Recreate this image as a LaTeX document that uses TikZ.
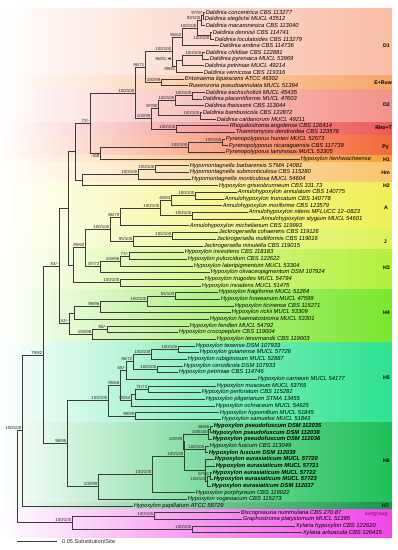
\documentclass[tikz,border=0pt]{standalone}
\usepackage{fontspec}
\setmainfont{Liberation Sans}
\usetikzlibrary{calc,arrows.meta}
\definecolor{brc}{HTML}{3A3A3A}
\definecolor{cD1}{HTML}{F9BDA6}
\definecolor{cER}{HTML}{F7A767}
\definecolor{cD2}{HTML}{F3928A}
\definecolor{cRT}{HTML}{EE5A5A}
\definecolor{cPy}{HTML}{F36A3C}
\definecolor{cHa}{HTML}{F6A23A}
\definecolor{cHm}{HTML}{F8C56E}
\definecolor{cHb}{HTML}{F2EE55}
\definecolor{cA}{HTML}{EEF055}
\definecolor{cJ}{HTML}{DDF25A}
\definecolor{cHc}{HTML}{B4F03C}
\definecolor{cHd}{HTML}{7AE62E}
\definecolor{cHe}{HTML}{2EE290}
\definecolor{cHf}{HTML}{1EC058}
\definecolor{cHg}{HTML}{119A45}
\definecolor{cOut}{HTML}{F046E6}
\definecolor{cOutT}{HTML}{9B1B8F}
\tikzset{
 branch/.style={draw=brc, line width=0.5pt},
 lab/.style={anchor=west, inner sep=0.6pt, font=\fontsize{5.8}{6}\selectfont\itshape, text=black},
 blab/.style={lab, font=\fontsize{5.8}{6}\selectfont\bfseries\itshape},
 bsl/.style={inner sep=0.5pt, font=\fontsize{4.4}{4.6}\selectfont, text=black!85},
 clade/.style={anchor=east, inner sep=0pt, font=\fontsize{5.2}{6}\selectfont\bfseries},
}
\newcommand\tleaf[4]{\coordinate (#1) at (#3,{12.3+(#2-1)*6.67}); \node[lab] (#1t) at (#1) {#4};}
\newcommand\tbleaf[4]{\coordinate (#1) at (#3,{12.3+(#2-1)*6.67}); \node[blab] (#1t) at (#1) {#4};}
\newcommand\tnode[4]{\path let \p1=(#3), \p2=(#4) in coordinate (#1) at (#2pt,{0.5*(\y1+\y2)}); \draw[branch] (#1) |- (#3); \draw[branch] (#1) |- (#4);}
\newcommand\tbs[3][south east]{\node[bsl,anchor=#1] (#2l) at (#2) {#3};}
\newcommand\tband[3]{\shade[left color=white, right color=#3, middle color=#3!55!white] (0,#1) rectangle (392,#2);}
\begin{document}
\begin{tikzpicture}[x=1pt,y=-1pt]
\useasboundingbox (0,0) rectangle (398,550);
% bands
\tband{8}{75.7}{cD1}
\tband{75.7}{89.0}{cER}
\tband{89.0}{122.4}{cD2}
\tband{122.4}{135.7}{cRT}
\tband{135.7}{155.7}{cPy}
\tband{155.7}{162.4}{cHa}
\tband{162.4}{182.4}{cHm}
\tband{182.4}{189.1}{cHb}
\tband{189.1}{229.1}{cA}
\tband{229.1}{249.1}{cJ}
\tband{249.1}{289.1}{cHc}
\tband{289.1}{342.5}{cHd}
\tband{342.5}{422.5}{cHe}
\tband{422.5}{502.5}{cHf}
\tband{502.5}{509.2}{cHg}
\tband{509.2}{537}{cOut}
% clade labels
\node[clade] (kD1) at (390,46) {D1};
\node[clade] (kER) at (392,83) {E+Ruw};
\node[clade] (kD2) at (390,105) {D2};
\node[clade] (kRT) at (392,128) {Rho+T};
\node[clade] (kPy) at (389,147) {Py};
\node[clade] (kH1) at (390,159.5) {H1};
\node[clade] (kHm) at (390,173) {Hm};
\node[clade] (kH2) at (390,186) {H2};
\node[clade] (kA) at (388,208) {A};
\node[clade] (kJ) at (387,242) {J};
\node[clade] (kH3) at (390,268) {H3};
\node[clade] (kH4) at (390,313) {H4};
\node[clade] (kH5) at (390,378) {H5};
\node[clade] (kH6) at (390,461) {H6};
\node[clade] (kH7) at (389,506) {H7};
\node[clade,text=cOutT] (kOut) at (388,514) {outgroup};
% leaves
\tleaf{L1}{1}{205}{Daldinia concentrica CBS 113277}
\tleaf{L2}{2}{204}{Daldinia steglichii MUCL 43512}
\tleaf{L3}{3}{205}{Daldinia macaronesica CBS 113040}
\tleaf{L4}{4}{212}{Daldinia dennisii CBS 114741}
\tleaf{L5}{5}{214}{Daldinia loculatoides CBS 113279}
\tleaf{L6}{6}{219}{Daldinia andina CBS 114736}
\tleaf{L7}{7}{205}{Daldinia childiae CBS 122881}
\tleaf{L8}{8}{209}{Daldinia pyrenaica MUCL 53969}
\tleaf{L9}{9}{204}{Daldinia petriniae MUCL 49214}
\tleaf{L10}{10}{203}{Daldinia vernicosa CBS 119316}
\tleaf{L11}{11}{184}{Entonaema liquescens ATCC 46302}
\tleaf{L12}{12}{188}{Ruwenzoria pseudoannulata MUCL 51394}
\tleaf{L13}{13}{205}{Daldinia eschscholtzii MUCL 45435}
\tleaf{L14}{14}{202}{Daldinia placentiformis MUCL 47603}
\tleaf{L15}{15}{204}{Daldinia theissenii CBS 113044}
\tleaf{L16}{16}{202}{Daldinia bambusicola CBS 122872}
\tleaf{L17}{17}{216}{Daldinia caldariorum MUCL 49211}
\tleaf{L18}{18}{229}{Rhopalostroma angolense CBS 126414}
\tleaf{L19}{19}{235}{Thamnomyces dendroidea CBS 123578}
\tleaf{L20}{20}{225}{Pyrenopolyporus hunteri MUCL 52673}
\tleaf{L21}{21}{228}{Pyrenopolyporus nicaraguensis CBS 117739}
\tleaf{L22}{22}{225}{Pyrenopolyporus laminosus MUCL 53305}
\tleaf{L23}{23}{300}{Hypoxylon lienhwacheense}
\tleaf{L24}{24}{189}{Hypomontagnella barbarensis STMA 14081}
\tleaf{L25}{25}{189}{Hypomontagnella submonticulosa CBS 115280}
\tleaf{L26}{26}{191}{Hypomontagnella monticulosa MUCL 54604}
\tleaf{L27}{27}{218}{Hypoxylon griseobrunneum CBS 331.73}
\tleaf{L28}{28}{237}{Annulohypoxylon annulatum CBS 140775}
\tleaf{L29}{29}{224}{Annulohypoxylon truncatum CBS 140778}
\tleaf{L30}{30}{222}{Annulohypoxylon moriforme CBS 123579}
\tleaf{L31}{31}{248}{Annulohypoxylon nitens MFLUCC 12–0823}
\tleaf{L32}{32}{260}{Annulohypoxylon stygium MUCL 54601}
\tleaf{L33}{33}{189}{Annulohypoxylon michelianum CBS 119993}
\tleaf{L34}{34}{218}{Jackrogersella cohaerens CBS 119126}
\tleaf{L35}{35}{216}{Jackrogersella multiformis CBS 119016}
\tleaf{L36}{36}{203}{Jackrogersella minutella CBS 119015}
\tleaf{L37}{37}{184}{Hypoxylon investiens CBS 118183}
\tleaf{L38}{38}{187}{Hypoxylon pulicicidum CBS 122622}
\tleaf{L39}{39}{193}{Hypoxylon lateripigmentum MUCL 53304}
\tleaf{L40}{40}{210}{Hypoxylon olivaceopigmentum DSM 107924}
\tleaf{L41}{41}{204}{Hypoxylon trugodes MUCL 54794}
\tleaf{L42}{42}{201}{Hypoxylon invadens MUCL 51475}
\tleaf{L43}{43}{218}{Hypoxylon fragiforme MUCL 51264}
\tleaf{L44}{44}{220}{Hypoxylon howeanum MUCL 47599}
\tleaf{L45}{45}{234}{Hypoxylon ticinense CBS 115271}
\tleaf{L46}{46}{231}{Hypoxylon rickii MUCL 53309}
\tleaf{L47}{47}{209}{Hypoxylon haematostroma MUCL 53301}
\tleaf{L48}{48}{189}{Hypoxylon fendleri MUCL 54792}
\tleaf{L49}{49}{178}{Hypoxylon crocopeplum CBS 119004}
\tleaf{L50}{50}{216}{Hypoxylon lenormandii CBS 119003}
\tleaf{L51}{51}{195}{Hypoxylon texense DSM 107933}
\tleaf{L52}{52}{199}{Hypoxylon guianense MUCL 57726}
\tleaf{L53}{53}{187}{Hypoxylon rubiginosum MUCL 52887}
\tleaf{L54}{54}{183}{Hypoxylon cercidicola DSM 107933}
\tleaf{L55}{55}{178}{Hypoxylon petriniae CBS 114746}
\tleaf{L56}{56}{257}{Hypoxylon carneum MUCL 54177}
\tleaf{L57}{57}{216}{Hypoxylon musceum MUCL 53765}
\tleaf{L58}{58}{201}{Hypoxylon perforatum CBS 115281}
\tleaf{L59}{59}{205}{Hypoxylon pilgerianum STMA 13455}
\tleaf{L60}{60}{215}{Hypoxylon ochraceum MUCL 54625}
\tleaf{L61}{61}{219}{Hypoxylon hypomiltum MUCL 51845}
\tleaf{L62}{62}{221}{Hypoxylon samuelsii MUCL 51843}
\tbleaf{L63}{63}{213}{Hypoxylon pseudofuscum DSM 112035}
\tbleaf{L64}{64}{211.5}{Hypoxylon pseudofuscum DSM 112038}
\tbleaf{L65}{65}{212}{Hypoxylon pseudofuscum DSM 112036}
\tleaf{L66}{66}{209}{Hypoxylon fuscum CBS 113049}
\tbleaf{L67}{67}{208}{Hypoxylon fuscum DSM 112039}
\tbleaf{L68}{68}{214}{Hypoxylon eurasiaticum MUCL 57720}
\tbleaf{L69}{69}{215}{Hypoxylon eurasiaticum MUCL 57721}
\tbleaf{L70}{70}{212}{Hypoxylon eurasiaticum MUCL 57722}
\tbleaf{L71}{71}{213}{Hypoxylon eurasiaticum MUCL 57723}
\tbleaf{L72}{72}{211}{Hypoxylon eurasiaticum DSM 112037}
\tleaf{L73}{73}{195}{Hypoxylon porphyreum CBS 119022}
\tleaf{L74}{74}{187}{Hypoxylon vogesiacum CBS 115273}
\tleaf{L75}{75}{133}{Hypoxylon papillatum ATCC 58729}
\tleaf{L76}{76}{240}{Biscogniauxia nummularia CBS 270.87}
\tleaf{L77}{77}{242}{Graphostroma platystomum MUCL 51395}
\tleaf{L78}{78}{295}{Xylaria hypoxylon CBS 122620}
\tleaf{L79}{79}{302}{Xylaria arbuscula CBS 126415}
% D1
\tnode{A1}{203}{L1}{L2}\tbs{A1}{97/97}
\tnode{A2}{201}{A1}{L3}\tbs{A2}{93/100}
\tnode{Ndl}{210}{L4}{L5}\tbs[north east]{Ndl}{100/100}
\tnode{N26}{197}{A2}{Ndl}\tbs{N26}{100/100}
\tnode{D1a}{182}{N26}{L6}\tbs{D1a}{95/63}
\tnode{Ncp}{202}{L7}{L8}\tbs{Ncp}{100/100}
\tnode{Y}{182}{Ncp}{L9}
\node[bsl,anchor=east] (Yl) at (167,58.5) {96/81};
\fill[black!85] (Yl.east) ++(0.6,0) -- ++(3,-1.3) -- ++(0,2.6) -- cycle;
\tnode{D1b}{176}{Y}{L10}\tbs[north east]{D1b}{99/81}
\tnode{D1}{172}{D1a}{D1b}\tbs{D1}{100/100}
\tnode{ER}{161}{L11}{L12}\tbs{ER}{100/99}
\tnode{N145}{145}{D1}{ER}\tbs{N145}{96/71}
% D2
\tnode{Nep}{192}{L13}{L14}\tbs{Nep}{100/100}
\tnode{Nept}{175}{Nep}{L15}\tbs{Nept}{100/100}
\tnode{Nbc}{200}{L16}{L17}\tbs{Nbc}{100/100}
\tnode{D2}{158}{Nept}{Nbc}\tbs{D2}{87/90}
\tnode{Nrt}{176}{L18}{L19}\tbs{Nrt}{100/100}
\tnode{D2R}{151}{D2}{Nrt}\tbs{D2R}{100/99}
\tnode{N135}{135}{N145}{D2R}\tbs{N135}{100/100}
% Py
\tnode{Nhn}{222}{L20}{L21}\tbs{Nhn}{100/100}
\tnode{Py}{188}{Nhn}{L22}\tbs{Py}{100/100}
\tnode{N100a}{100}{Py}{L23}\tbs[north east]{N100a}{-/68}
\tnode{N90}{90}{N135}{N100a}\tbs{N90}{72/-}
% Hm
\tnode{Nbs}{155}{L24}{L25}\tbs{Nbs}{100/100}
\tnode{Hm}{138}{Nbs}{L26}\tbs{Hm}{100/100}
\tnode{N82}{82}{Hm}{L27}
\tnode{N75}{75}{N90}{N82}
% A, J
\tnode{Nat}{195}{L28}{L29}\tbs{Nat}{100/100}
\tnode{N171}{171}{Nat}{L30}\tbs{N171}{45/83}
\tnode{Nns}{192}{L31}{L32}\tbs{Nns}{100/100}
\tnode{N160}{160}{N171}{Nns}\tbs{N160}{100/100}
\tnode{NA}{120}{N160}{L33}\tbs{NA}{86/79}
\tnode{Ncm}{172}{L34}{L35}\tbs{Ncm}{100/100}
\tnode{NJ}{133}{Ncm}{L36}\tbs{NJ}{95/100}
\tnode{N110}{110}{NA}{NJ}\tbs{N110}{100/100}
% H3
\tnode{n77}{129}{L37}{L38}\tbs{n77}{77/-}
\tnode{n96}{120}{n77}{L39}\tbs{n96}{100/96}
\tnode{n87}{100}{n96}{L40}\tbs{n87}{87/72}
\tnode{N85}{85}{N110}{n87}\tbs{N85}{99/60}
\tnode{Ntr}{120}{L41}{L42}\tbs{Ntr}{100/100}
\tnode{N73}{73}{N85}{Ntr}
\tnode{N68}{68}{N75}{N73}
% H4
\tnode{Nfh}{175}{L43}{L44}\tbs{Nfh}{55/100}
\tnode{N147}{147}{Nfh}{L45}\tbs{N147}{100/100}
\tnode{N100b}{100}{N147}{L46}\tbs{N100b}{99/95}
\tnode{N74}{74}{N100b}{L47}
\tnode{N107}{107}{L48}{L49}\tbs{N107}{55/-}
\tnode{N92}{92}{N107}{L50}\tbs{N92}{100/98}
\tnode{N69}{69}{N74}{N92}\tbs{N69}{52/-}
\tnode{N59}{59}{N68}{N69}\tbs{N59}{83/-}
% H5
\tnode{Ntg}{178}{L51}{L52}\tbs{Ntg}{100/100}
\tnode{N151}{151}{Ntg}{L53}\tbs{N151}{100/100}
\tnode{Ncpe}{157}{L54}{L55}\tbs{Ncpe}{100/100}
\tnode{N133}{133}{N151}{Ncpe}\tbs{N133}{96/72}
\tnode{N126}{126}{N133}{L56}\tbs{N126}{68/-}
\tnode{N71}{148}{L57}{L58}\tbs{N71}{71/72}
\tnode{Nmp}{135}{N71}{L59}
\tnode{N131}{131}{Nmp}{L60}\tbs{N131}{85/54}
\tnode{N120}{120}{N126}{N131}\tbs{N120}{95/68}
\tnode{N99}{135}{L61}{L62}\tbs{N99}{99/99}
\tnode{H5}{108}{N120}{N99}\tbs{H5}{100/100}
% H6
\tnode{n86}{210}{L63}{L64}\tbs{n86}{86/86}
\tnode{nPf}{208.5}{n86}{L65}\tbs{nPf}{100/100}
\tnode{nfu}{205}{L66}{L67}\tbs{nfu}{100/100}
\tnode{npfu}{183}{nPf}{nfu}\tbs{npfu}{100/99}
\tnode{n57}{210}{L70}{L71}\tbs{n57}{57/61}
\tnode{n100e}{207}{n57}{L72}\tbs{n100e}{100/100}
\tnode{neu}{205}{L68}{n100e}
\draw[branch] (neu) |- (L69);
\tnode{n184}{184}{npfu}{neu}\tbs{n184}{100/100}
\tnode{N152}{152}{n184}{L73}\tbs{N152}{100/100}
\tnode{H6}{98}{N152}{L74}\tbs{H6}{100/99}
\tnode{H56}{67}{H5}{H6}\tbs{H56}{98/95}
\tnode{N43}{43}{N59}{H56}\tbs{N43}{79/82}
\tnode{N22}{22}{N43}{L75}\tbs{N22}{100/100}
% outgroup
\tnode{Nbg}{154}{L76}{L77}\tbs{Nbg}{100/100}
\tnode{Nxy}{192}{L78}{L79}\tbs{Nxy}{100/100}
\tnode{Nout}{72}{Nbg}{Nxy}\tbs{Nout}{100/100}
\tnode{Root}{17}{N22}{Nout}
% scale bar
\coordinate (sbA) at (17,541.7);
\coordinate (sbB) at (57,541.7);
\draw[branch] (sbA) -- (sbB);
\node[anchor=west, inner sep=0pt, font=\fontsize{5.6}{6}\selectfont, text=black!85] (sbT) at ($(sbB)+(5,0)$) {0.05 Substitution/Site};
\end{tikzpicture}
\end{document}
